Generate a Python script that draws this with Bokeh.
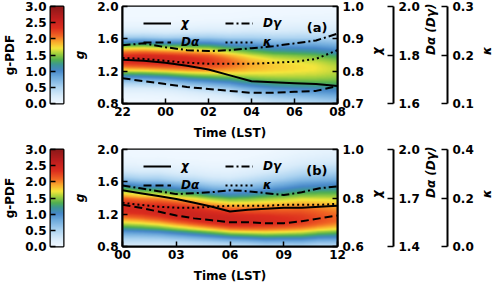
import math
import numpy as np
from bokeh.plotting import figure
from bokeh.models import (Range1d, LinearAxis, FixedTicker, LinearColorMapper,
                          Legend, LegendItem, Label, PrintfTickFormatter)
from bokeh.layouts import row, column
from bokeh.embed import file_html
from bokeh.resources import INLINE

FONT = "DejaVu Sans"

# ---------------- Panel (a): 22 LST -> 08 LST ----------------
a_hours = [0, 1, 2, 3, 4, 5, 6, 7, 8, 9, 10]
a_tick_pos = [0, 2, 4, 6, 8, 10]
a_tick_labels = ["22", "00", "02", "04", "06", "08"]
a_chi = [0.835, 0.832, 0.826, 0.817, 0.805, 0.787, 0.769, 0.766, 0.763, 0.760, 0.754]
a_Dalpha = [1.704, 1.692, 1.680, 1.668, 1.660, 1.652, 1.644, 1.644, 1.648, 1.652, 1.672]
a_Dgamma = [1.840, 1.848, 1.832, 1.820, 1.816, 1.820, 1.828, 1.836, 1.848, 1.860, 1.888]
a_kappa = [0.194, 0.192, 0.188, 0.184, 0.182, 0.182, 0.182, 0.184, 0.186, 0.192, 0.210]
a_pdf_center = [1.35, 1.35, 1.34, 1.33, 1.32, 1.30, 1.28, 1.26, 1.25, 1.24, 1.22]
a_pdf_peak = [2.40, 2.45, 2.45, 2.40, 2.30, 2.10, 1.90, 1.80, 1.75, 1.70, 1.60]
a_pdf_sig_up = [0.16, 0.16, 0.16, 0.17, 0.18, 0.19, 0.21, 0.22, 0.23, 0.24, 0.25]
a_pdf_sig_dn = [0.17, 0.17, 0.17, 0.18, 0.19, 0.20, 0.23, 0.25, 0.26, 0.27, 0.28]

# ---------------- Panel (b): 00 LST -> 12 LST ----------------
b_hours = [0, 1, 2, 3, 4, 5, 6, 7, 8, 9, 10, 11, 12]
b_tick_pos = [0, 3, 6, 9, 12]
b_tick_labels = ["00", "03", "06", "09", "12"]
b_chi = [0.832, 0.820, 0.808, 0.796, 0.780, 0.764, 0.744, 0.752, 0.756, 0.760, 0.760, 0.764, 0.768]
b_Dalpha = [1.658, 1.640, 1.616, 1.592, 1.574, 1.562, 1.550, 1.550, 1.544, 1.544, 1.556, 1.574, 1.592]
b_Dgamma = [1.778, 1.760, 1.742, 1.724, 1.730, 1.736, 1.748, 1.742, 1.730, 1.718, 1.736, 1.760, 1.772]
b_kappa = [0.180, 0.172, 0.164, 0.160, 0.160, 0.164, 0.168, 0.168, 0.168, 0.172, 0.172, 0.172, 0.176]
b_pdf_center = [1.28, 1.26, 1.24, 1.21, 1.18, 1.15, 1.12, 1.11, 1.11, 1.11, 1.12, 1.13, 1.14]
b_pdf_peak = [2.40, 2.40, 2.45, 2.50, 2.50, 2.50, 2.50, 2.45, 2.40, 2.35, 2.30, 2.20, 2.10]
b_pdf_sig_up = [0.22, 0.22, 0.23, 0.23, 0.24, 0.24, 0.25, 0.27, 0.29, 0.31, 0.33, 0.34, 0.35]
b_pdf_sig_dn = [0.22, 0.21, 0.20, 0.19, 0.18, 0.17, 0.16, 0.16, 0.17, 0.17, 0.18, 0.18, 0.19]

# colour map stops (white-blue-green-yellow-red)
cmap_pos = [0.00, 0.08, 0.17, 0.27, 0.34, 0.40, 0.45, 0.52, 0.57, 0.63, 0.70, 0.78, 0.88, 1.00]
cmap_rgb = [(240, 248, 255), (215, 235, 250), (170, 210, 240), (110, 170, 220), (70, 135, 200),
            (60, 150, 150), (80, 175, 80), (170, 210, 60), (245, 230, 60), (250, 175, 45),
            (240, 100, 35), (220, 45, 30), (190, 30, 30), (140, 25, 25)]

FRAME_H = 97


def build_palette(n=256):
    f = np.linspace(0, 1, n)
    arr = np.array(cmap_rgb, dtype=float)
    r = np.interp(f, cmap_pos, arr[:, 0])
    g = np.interp(f, cmap_pos, arr[:, 1])
    b = np.interp(f, cmap_pos, arr[:, 2])
    return ["#%02x%02x%02x" % (int(round(a)), int(round(bb)), int(round(c))) for a, bb, c in zip(r, g, b)]


palette = build_palette()
mapper = LinearColorMapper(palette=palette, low=0, high=3)


def pdf_grid(hours, center, peak, sup, sdn, nx=220, ny=200):
    t = np.linspace(hours[0], hours[-1], nx)
    gg = np.linspace(0.8, 2.0, ny)[:, None]
    c = np.interp(t, hours, center)[None, :]
    pk = np.interp(t, hours, peak)[None, :]
    su = np.interp(t, hours, sup)[None, :]
    sd = np.interp(t, hours, sdn)[None, :]
    s = np.where(gg >= c, su, sd)
    return pk * np.exp(-0.5 * ((gg - c) / s) ** 2)


def style_axis(ax, tick_in=4):
    ax.major_tick_in = tick_in
    ax.major_tick_out = 0
    ax.minor_tick_line_color = None
    ax.major_tick_line_width = 1.5
    ax.axis_line_width = 2
    ax.major_label_text_font = FONT
    ax.major_label_text_font_size = "12px"
    ax.major_label_text_font_style = "bold"
    ax.major_label_text_color = "black"
    ax.axis_label_text_font = FONT
    ax.axis_label_text_font_size = "12px"
    ax.axis_label_text_font_style = "bold"
    ax.axis_label_text_color = "black"


def make_cbar(top, bottom):
    cb = figure(frame_width=13, frame_height=FRAME_H, x_range=Range1d(0, 1), y_range=Range1d(0, 3),
                min_border_left=42, min_border_right=7, min_border_top=top, min_border_bottom=bottom,
                output_backend="svg", toolbar_location=None)
    levels = np.linspace(0, 3, 256)[:, None]
    cb.image(image=[levels], x=0, y=0, dw=1, dh=3, color_mapper=mapper)
    cb.xaxis.visible = False
    cb.grid.visible = False
    ax = cb.yaxis[0]
    ax.ticker = FixedTicker(ticks=[0, 0.5, 1.0, 1.5, 2.0, 2.5, 3.0])
    ax.formatter = PrintfTickFormatter(format="%.1f")
    ax.axis_label = "g-PDF"
    style_axis(ax, tick_in=5)
    ax.axis_line_color = None
    ax.major_label_standoff = 4
    ax.axis_label_standoff = 5
    cb.outline_line_color = "black"
    cb.outline_line_width = 2
    cb.outline_line_alpha = 1
    return cb


def make_main(hours, tick_pos, tick_labels, chi, da, dg, ka, pdf_params,
              chi_rng, chi_ticks, D_rng, D_ticks, k_rng, k_ticks, tag, top, bottom):
    p = figure(frame_width=215, frame_height=FRAME_H,
               x_range=Range1d(hours[0], hours[-1]), y_range=Range1d(0.8, 2.0),
               min_border_left=52, min_border_right=150, min_border_top=top, min_border_bottom=bottom,
               output_backend="svg", toolbar_location=None)
    p.grid.visible = False
    pdf = pdf_grid(hours, *pdf_params)
    p.image(image=[pdf], x=hours[0], y=0.8, dw=hours[-1] - hours[0], dh=1.2, color_mapper=mapper)

    p.extra_y_ranges = {"chi": Range1d(*chi_rng), "D": Range1d(*D_rng), "k": Range1d(*k_rng)}

    r_chi = p.line(hours, chi, y_range_name="chi", line_color="black", line_width=2)
    r_da = p.line(hours, da, y_range_name="D", line_color="black", line_width=2, line_dash="8 4")
    r_dg = p.line(hours, dg, y_range_name="D", line_color="black", line_width=2, line_dash="8 3 2 3")
    r_k = p.line(hours, ka, y_range_name="k", line_color="black", line_width=2, line_dash="2 3")

    # bottom axis
    xa = p.xaxis[0]
    xa.ticker = FixedTicker(ticks=tick_pos)
    xa.major_label_overrides = {t: l for t, l in zip(tick_pos, tick_labels)}
    xa.axis_label = "Time (LST)"
    style_axis(xa, tick_in=5)
    xa.major_label_standoff = 3
    xa.axis_label_standoff = 7

    # left axis
    ya = p.yaxis[0]
    ya.ticker = FixedTicker(ticks=[0.8, 1.2, 1.6, 2.0])
    ya.formatter = PrintfTickFormatter(format="%.1f")
    ya.axis_label = "g"
    style_axis(ya, tick_in=5)
    ya.axis_label_text_font_style = "bold italic"
    ya.major_label_standoff = 4
    ya.axis_label_standoff = 7

    # right axes
    chi_ax = LinearAxis(y_range_name="chi", ticker=FixedTicker(ticks=chi_ticks),
                        formatter=PrintfTickFormatter(format="%.1f"), axis_label="χ")
    style_axis(chi_ax, tick_in=5)
    chi_ax.major_label_standoff = 5
    chi_ax.axis_label_standoff = 10
    chi_ax.axis_label_text_font_style = "bold italic"
    chi_ax.axis_label_orientation = math.pi / 2
    p.add_layout(chi_ax, "right")

    D_ax = LinearAxis(y_range_name="D", ticker=FixedTicker(ticks=D_ticks),
                      formatter=PrintfTickFormatter(format="%.1f"), axis_label="Dα (Dγ)")
    style_axis(D_ax, tick_in=6)
    D_ax.major_label_standoff = 5
    D_ax.axis_label_standoff = 8
    D_ax.axis_label_text_font_style = "bold italic"
    D_ax.axis_label_orientation = math.pi / 2
    p.add_layout(D_ax, "right")

    k_ax = LinearAxis(y_range_name="k", ticker=FixedTicker(ticks=k_ticks),
                      formatter=PrintfTickFormatter(format="%.1f"), axis_label="κ")
    style_axis(k_ax, tick_in=6)
    k_ax.major_label_standoff = 5
    k_ax.axis_label_standoff = 10
    k_ax.axis_label_text_font_style = "bold italic"
    k_ax.axis_label_orientation = math.pi / 2
    p.add_layout(k_ax, "right")

    p.outline_line_color = "black"
    p.outline_line_width = 2
    p.outline_line_alpha = 1

    def mk_legend(items, loc):
        lg = Legend(items=items, location=loc, orientation="vertical",
                    border_line_color=None, background_fill_alpha=0,
                    padding=0, margin=0, spacing=5, glyph_width=28, glyph_height=14,
                    label_height=14, label_standoff=10,
                    label_text_font=FONT, label_text_font_size="12px",
                    label_text_font_style="bold italic", label_text_color="black")
        p.add_layout(lg, "center")

    mk_legend([LegendItem(label="χ", renderers=[r_chi]),
               LegendItem(label="Dα", renderers=[r_da])], (21, FRAME_H - 43))
    mk_legend([LegendItem(label="Dγ", renderers=[r_dg]),
               LegendItem(label="κ", renderers=[r_k])], (103, FRAME_H - 43))

    x_tag = hours[0] + (hours[-1] - hours[0]) * 0.953
    p.add_layout(Label(x=x_tag, y=1.74, text=tag, text_align="right", text_baseline="middle",
                       text_font=FONT, text_font_size="13px", text_font_style="bold",
                       text_color="black"))
    return p


pa = make_main(a_hours, a_tick_pos, a_tick_labels, a_chi, a_Dalpha, a_Dgamma, a_kappa,
               (a_pdf_center, a_pdf_peak, a_pdf_sig_up, a_pdf_sig_dn),
               (0.7, 1.0), [0.7, 0.8, 0.9, 1.0], (1.6, 2.0), [1.6, 1.8, 2.0],
               (0.1, 0.3), [0.1, 0.2, 0.3], "(a)", 6, 35)
pb = make_main(b_hours, b_tick_pos, b_tick_labels, b_chi, b_Dalpha, b_Dgamma, b_kappa,
               (b_pdf_center, b_pdf_peak, b_pdf_sig_up, b_pdf_sig_dn),
               (0.6, 1.0), [0.6, 0.8, 1.0], (1.4, 2.0), [1.4, 1.7, 2.0],
               (0.0, 0.4), [0.0, 0.2, 0.4], "(b)", 7, 35)
ca = make_cbar(6, 35)
cbb = make_cbar(7, 35)

layout = column(row(ca, pa), row(cbb, pb), spacing=0)
open("out.html", "w").write(file_html(layout, INLINE))
